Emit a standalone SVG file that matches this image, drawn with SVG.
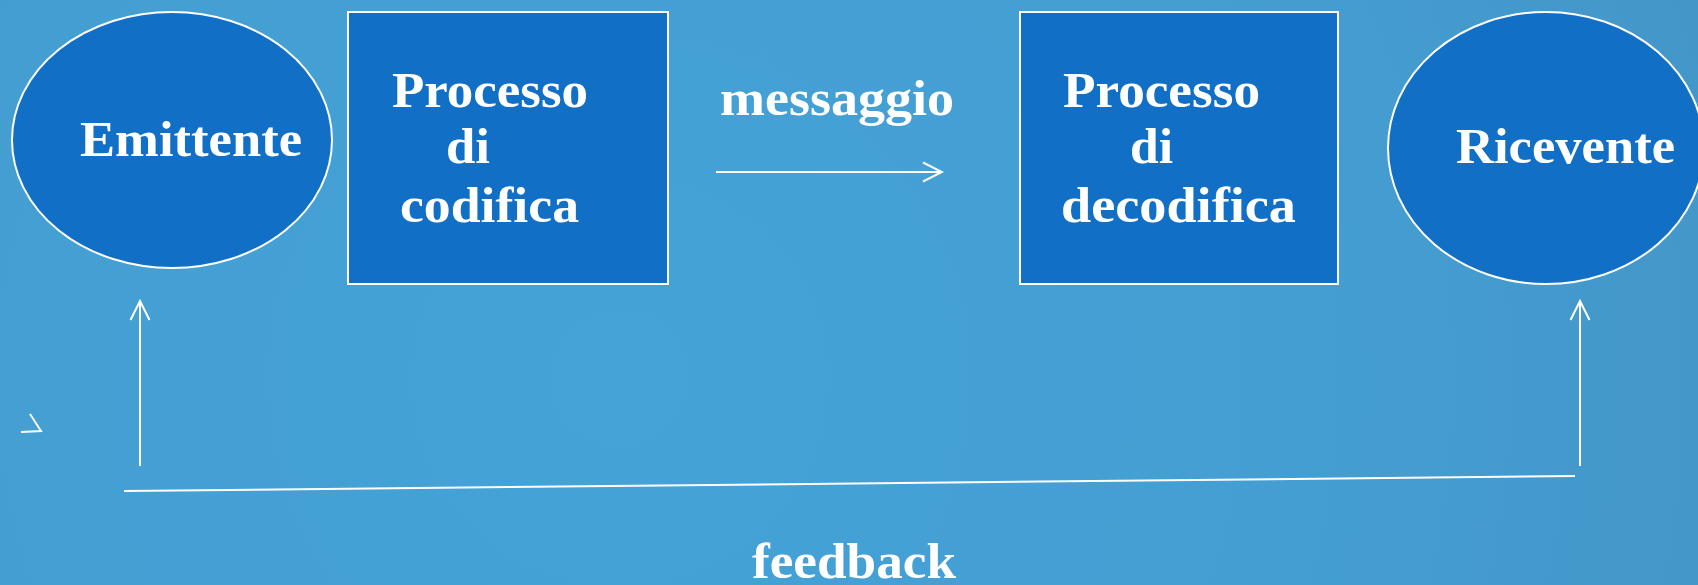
<svg xmlns="http://www.w3.org/2000/svg" width="1698" height="585" viewBox="0 0 1698 585">
  <defs>
    <radialGradient id="bg" cx="620" cy="380" r="1150" gradientUnits="userSpaceOnUse">
      <stop offset="0" stop-color="#45a3d7"/>
      <stop offset="0.6" stop-color="#449ed2"/>
      <stop offset="1" stop-color="#4496c8"/>
    </radialGradient>
    <marker id="open-arrow" viewBox="0 0 22 22" refX="20" refY="11" markerWidth="22" markerHeight="22" markerUnits="userSpaceOnUse" orient="auto">
      <path d="M1,1.5 L20,11 L1,20.5" fill="none" stroke="#ffffff" stroke-width="2"/>
    </marker>
    <style>
      .shape { fill: #1170c6; stroke: #ffffff; stroke-width: 2; }
      .label { font-family: "Liberation Serif", "Times New Roman", serif; font-weight: bold; font-size: 50px; fill: #ffffff; }
      .link { stroke: #ffffff; stroke-width: 2; fill: none; }
    </style>
  </defs>

  <rect x="0" y="0" width="1698" height="585" fill="url(#bg)"/>

  <g id="emittente">
    <ellipse class="shape" cx="172" cy="140" rx="160" ry="128"/>
    <text class="label" x="80" y="156" textLength="222" lengthAdjust="spacingAndGlyphs">Emittente</text>
  </g>

  <g id="processo-codifica">
    <rect class="shape" x="348" y="12" width="320" height="272"/>
    <text class="label" x="392" y="107" textLength="196" lengthAdjust="spacingAndGlyphs">Processo</text>
    <text class="label" x="446" y="163" textLength="44" lengthAdjust="spacingAndGlyphs">di</text>
    <text class="label" x="400" y="222" textLength="179" lengthAdjust="spacingAndGlyphs">codifica</text>
  </g>

  <g id="messaggio">
    <text class="label" x="720" y="115" textLength="234" lengthAdjust="spacingAndGlyphs">messaggio</text>
  </g>

  <g id="processo-decodifica">
    <rect class="shape" x="1020" y="12" width="318" height="272"/>
    <text class="label" x="1063" y="107" textLength="197" lengthAdjust="spacingAndGlyphs">Processo</text>
    <text class="label" x="1130" y="163" textLength="43" lengthAdjust="spacingAndGlyphs">di</text>
    <text class="label" x="1061" y="222" textLength="235" lengthAdjust="spacingAndGlyphs">decodifica</text>
  </g>

  <g id="ricevente">
    <ellipse class="shape" cx="1546" cy="148" rx="158" ry="136"/>
    <text class="label" x="1456" y="163" textLength="219" lengthAdjust="spacingAndGlyphs">Ricevente</text>
  </g>

  <g id="feedback">
    <text class="label" x="752" y="578" textLength="204" lengthAdjust="spacingAndGlyphs">feedback</text>
  </g>

  <g id="connectors">
    <!-- message flow -->
    <line class="link" x1="716" y1="172" x2="942" y2="172" marker-end="url(#open-arrow)"/>
    <!-- feedback loop -->
    <line class="link" x1="124" y1="491" x2="1575" y2="476"/>
    <line class="link" x1="140" y1="466" x2="140" y2="301" marker-end="url(#open-arrow)"/>
    <line class="link" x1="1580" y1="466" x2="1580" y2="301" marker-end="url(#open-arrow)"/>
    <!-- small stray stroke -->
    <path class="link" d="M30,414 L41,431 L21,432" stroke-width="2.2"/>
  </g>
</svg>
